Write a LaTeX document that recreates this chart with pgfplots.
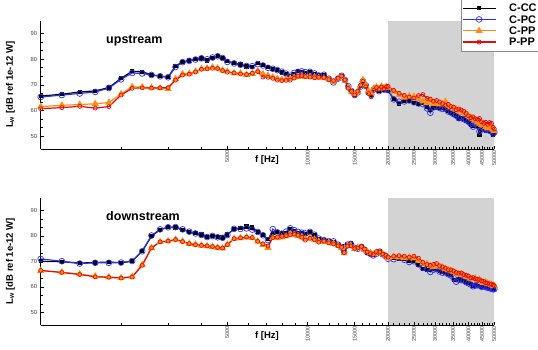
\documentclass[border=0pt]{standalone}
\usepackage{pgfplots}
\pgfplotsset{compat=1.18}
\usepackage{pgfplotstable}
\usepackage{fontspec}
\setmainfont{Liberation Sans}

\definecolor{cblue}{RGB}{45,45,250}
\definecolor{corange}{RGB}{255,140,20}
\definecolor{cred}{RGB}{228,10,10}
\definecolor{shade}{RGB}{211,211,211}

\pgfplotstableread{
f      CC    PC    PP    PPP
1000   65.6  65.2  61.5  60.7
1200   66.3  66.0  62.0  61.1
1400   67.2  66.6  62.3  61.6
1600   67.6  67.2  62.6  60.9
1800   68.9  68.7  63.1  61.5
2000   72.5  72.1  66.4  66.0
2200   75.2  74.6  69.2  68.6
2400   75.1  74.4  69.1  68.8
2600   73.8  73.8  68.9  68.7
2800   73.4  73.3  68.7  68.8
3000   73.0  72.9  68.4  68.9
3200   77.3  76.9  72.3  71.8
3400   78.9  78.8  74.2  73.8
3600   79.4  79.3  74.4  74.1
3800   79.9  79.8  75.2  75.0
4000   80.2  80.3  76.2  76.0
4200   79.4  79.9  76.4  76.2
4400   80.4  80.6  76.8  76.4
4600   81.2  81.1  76.4  76.3
4800   80.5  80.4  75.6  75.5
5000   79.1  78.9  75.2  74.9
5300   78.5  78.3  74.6  74.6
5600   77.9  77.8  74.5  74.2
5900   77.1  77.3  73.9  74.0
6200   77.0  77.2  74.3  74.5
6500   78.6  78.0  75.4  75.1
6800   77.6  77.5  74.2  73.0
7100   76.8  76.6  73.6  72.9
7400   76.0  76.2  73.0  72.5
7700   75.8  75.7  72.4  71.8
8000   74.8  75.1  72.0  71.6
8300   74.2  74.3  72.2  71.7
8600   73.4  73.5  72.5  71.8
8900   74.3  74.6  72.8  72.6
9200   75.2  75.0  73.1  73.4
9500   74.8  75.2  73.4  73.5
9800   74.7  74.9  73.0  73.2
10200  74.8  75.0  73.2  73.0
10600  74.3  74.4  73.0  72.7
11000  73.6  73.6  72.8  72.9
11500  73.8  73.9  72.6  72.8
12000  72.6  72.3  72.3  72.0
12500  71.0  70.9  71.2  71.6
13000  72.6  72.4  72.4  72.5
13400  73.3  73.5  73.0  73.4
13800  72.0  71.8  71.6  71.9
14200  69.2  69.4  69.0  68.6
14600  67.4  67.5  67.2  67.4
15000  66.2  66.0  66.4  66.0
15400  67.2  67.0  67.3  67.5
15800  69.4  69.3  69.8  69.9
16100  71.6  71.4  71.9  71.3
16500  69.6  69.8  69.8  69.2
16900  67.3  67.0  67.5  66.6
17300  66.2  66.1  66.8  65.3
17700  68.5  68.2  68.7  67.8
18100  68.4  68.6  69.1  68.9
18500  67.6  67.5  68.5  68.2
18900  68.6  68.7  69.4  69.1
19300  67.9  68.1  68.8  68.5
19700  68.5  68.2  69.2  69.2
20000  67.6  67.9  68.9  69.4
21000  64.6  64.3  67.4  67.8
22000  62.6  63.4  66.0  66.7
23000  63.8  63.5  65.0  65.9
24000  63.6  63.9  65.6  65.2
25000  62.9  63.2  65.4  64.8
26000  62.4  62.7  64.6  65.8
27000  62.9  62.5  63.6  66.2
28000  61.2  60.8  63.0  64.7
28800  60.3  59.1  63.9  64.4
29600  61.0  61.2  62.6  63.6
30400  61.3  61.4  63.2  63.9
31200  60.8  61.0  62.4  63.3
32000  60.9  60.6  62.6  62.6
32800  60.5  60.7  63.4  61.9
33600  59.7  59.6  61.8  62.4
34400  58.9  59.2  61.2  61.5
35200  58.4  58.6  60.8  61.3
36000  57.7  58.0  60.4  60.3
36800  56.6  57.0  59.8  60.6
37600  57.1  57.3  59.6  60.2
38400  56.9  56.6  59.0  59.7
39200  55.8  56.4  58.6  58.9
40000  55.5  55.6  57.8  57.9
40800  54.4  54.8  57.4  57.2
41600  53.8  53.7  56.8  57.5
42400  54.6  54.8  56.1  56.8
43200  53.9  54.0  55.4  56.6
44000  50.6  51.8  54.9  56.9
44800  52.3  52.6  54.4  55.6
45600  53.1  53.0  54.8  55.0
46400  52.2  52.5  53.6  55.4
47200  52.6  52.8  53.1  54.6
48000  51.9  52.1  53.4  55.3
48800  52.4  52.7  53.7  55.0
49500  50.6  51.0  52.6  53.4
50000  51.2  51.5  52.0  52.8
}\up

\pgfplotstableread{
f      CC    PC    PP    PPP
1000   70.0  70.9  66.3  66.4
1200   69.8  70.0  65.7  65.6
1400   69.3  69.1  65.0  64.8
1600   69.5  69.4  64.1  63.9
1800   69.7  69.4  63.8  63.7
2000   69.4  69.5  63.5  63.4
2200   70.0  70.1  64.0  63.8
2400   74.0  73.9  68.6  68.4
2600   79.8  80.1  75.2  75.3
2800   82.4  82.5  77.6  77.6
3000   83.3  83.3  77.9  77.9
3200   83.2  83.4  78.5  78.5
3400   82.4  82.5  77.8  77.7
3600   81.6  81.6  76.9  76.9
3800   81.0  80.9  76.6  76.5
4000   80.5  80.3  76.2  76.2
4200   79.6  79.5  76.0  76.0
4400   79.9  79.9  75.7  75.8
4600   79.6  79.4  75.3  75.4
4800   79.3  79.2  75.1  75.2
5000   80.5  80.3  76.6  76.5
5300   82.6  82.7  78.8  78.9
5600   83.0  82.7  79.1  79.2
5900   83.6  82.9  79.4  79.5
6200   83.2  82.4  79.2  79.3
6500   81.6  81.5  77.8  77.8
6800   80.3  80.2  76.5  76.8
7100   78.6  78.3  75.3  76.0
7400   81.0  82.6  79.2  79.3
7700   81.6  81.3  79.1  79.5
8000   80.9  80.8  79.4  79.8
8300   81.2  81.6  79.8  80.0
8600   82.5  82.9  80.6  80.4
8900   82.0  82.2  80.5  80.6
9200   81.2  81.5  80.0  80.2
9500   81.0  81.2  79.5  79.4
9800   80.8  80.9  78.8  78.3
10200  81.3  81.5  79.3  79.0
10600  80.2  80.4  78.5  78.4
11000  78.7  78.9  77.8  77.5
11500  78.4  78.3  77.6  77.9
12000  77.8  77.9  77.4  77.2
12500  77.6  77.8  77.0  76.8
13000  76.6  76.5  76.2  76.0
13400  75.8  75.4  75.3  75.5
13700  73.8  73.6  73.2  73.4
14100  76.3  76.5  76.0  75.9
14500  77.3  76.8  76.2  76.0
15000  75.6  75.2  74.9  75.0
15400  75.1  74.9  75.4  75.2
15900  75.5  75.6  75.3  75.8
16300  74.8  74.6  74.5  74.8
16700  73.4  73.5  73.8  73.6
17200  73.0  72.9  73.3  73.0
17600  72.4  72.3  72.8  72.6
18100  73.2  73.0  73.4  73.8
18600  73.9  73.8  73.6  73.6
19100  73.0  72.7  72.9  72.8
19600  72.1  72.0  72.2  72.4
20000  71.3  71.0  71.4  71.6
21000  71.2  70.8  71.8  72.0
22000  71.0  71.4  71.6  72.2
23000  70.8  70.6  71.3  72.0
24000  70.2  69.7  71.6  71.6
25000  70.3  70.0  71.2  72.0
26000  68.6  68.8  70.3  71.2
27000  67.0  67.4  69.2  69.6
28000  66.8  67.0  69.0  68.7
28800  66.5  65.8  68.2  68.4
29600  66.9  66.7  67.8  68.8
30400  66.5  66.9  68.3  69.1
31200  66.2  66.0  67.9  68.2
32000  65.8  65.5  67.6  67.8
32800  65.6  65.7  67.0  67.3
33600  65.2  64.9  66.6  66.7
34400  64.5  64.4  66.4  66.6
35200  62.8  63.4  65.8  66.2
36000  62.6  62.0  65.2  65.6
36800  63.0  62.8  65.0  65.3
37600  62.7  62.6  64.9  65.4
38400  62.3  62.5  64.6  64.8
39200  62.0  61.8  64.0  64.5
40000  61.5  61.4  63.8  64.2
40800  61.0  60.9  63.2  63.5
41600  60.4  60.2  62.9  63.6
42400  60.7  60.5  63.4  63.1
43200  60.9  60.6  62.5  62.9
44000  60.3  60.5  62.8  62.8
44800  60.1  60.0  62.0  62.3
45600  60.4  60.2  61.6  62.1
46400  60.0  59.9  61.8  61.6
47200  59.8  59.6  61.3  61.4
48000  59.4  59.5  61.1  61.0
48800  59.3  59.2  60.8  61.1
49500  59.1  59.0  60.5  60.6
50000  59.2  59.1  60.4  60.4
}\down

\pgfplotsset{
  mypanel/.style={
    scale only axis, width=453.6pt,
    xmin=1000, xmax=50000, ymin=45, ymax=95,
    axis x line*=bottom, axis y line*=left,
    axis line style={-, black, line width=0.6pt},
    axis on top,
    xtick={5000,10000,15000,20000,25000,30000,35000,40000,45000,50000},
    xticklabels={5000,10000,15000,20000,25000,30000,35000,40000,45000,50000},
    minor xtick={1000,2000,3000,4000,6000,7000,8000,9000,11000,12000,13000,14000,16000,17000,18000,19000,21000,22000,23000,24000,26000,27000,28000,29000,31000,32000,33000,34000,36000,37000,38000,39000,41000,42000,43000,44000,46000,47000,48000,49000},
    ytick={50,60,70,80,90}, minor y tick num=2,
    tick align=inside, major tick length=3.5pt, minor tick length=2.2pt,
    every tick/.append style={black, line width=0.5pt},
    xticklabel style={rotate=90, anchor=east, font=\fontsize{5.5}{6}\selectfont, text=black!75, inner sep=1.5pt},
    yticklabel style={font=\fontsize{5.8}{6}\selectfont, text=black!75},
    xlabel={f [Hz]},
    xlabel style={at={(axis description cs:0.4989,-0.085)}, anchor=center, font=\fontsize{9.5}{11}\bfseries\selectfont, inner sep=0pt},
    ylabel={L\textsubscript{w} [dB ref 1e-12 W]},
    ylabel style={at={(axis description cs:-0.0666,0.5)}, anchor=center, font=\fontsize{9.5}{11}\bfseries\selectfont, inner sep=0pt},
  },
  sCC/.style={black, line width=1.2pt, mark=square*, mark size=1.5pt, mark options={solid}},
  sPC/.style={cblue, line width=1.2pt, mark=o, mark size=2.9pt, mark options={solid, line width=0.7pt}},
  sPP/.style={corange, line width=1.2pt, mark=triangle*, mark size=3.0pt, mark options={solid}},
  sPPP/.style={cred, line width=1.2pt, mark=o, mark size=2.0pt, mark options={solid, line width=0.7pt}},
}

\begin{document}
\begin{tikzpicture}
\path[use as bounding box] (0,0) rectangle (538pt,349pt);

\begin{axis}[xmode=log, mypanel, at={(40.7pt,200pt)}, anchor=south west, height=128.5pt,
  legend style={at={(0.926,1.167)}, anchor=north west, draw=black!45, line width=0.5pt, fill=white,
    font=\fontsize{11}{12}\bfseries\selectfont, inner xsep=1pt, inner ysep=3.2pt, row sep=0pt,
    nodes={inner xsep=1.5pt, inner ysep=1.4pt, text height=8pt, text depth=0.5pt}},
  legend cell align=left,
  legend image code/.code={\draw[mark repeat=2,mark phase=2] plot coordinates {(0pt,0pt) (16.5pt,0pt) (33pt,0pt)}; \path (44.5pt,0pt);},
  /pgf/number format/assume math mode=true,
]
\addplot[fill=shade, draw=none, forget plot] coordinates {(20000,45) (50000,45) (50000,95) (20000,95)} -- cycle;
\addplot[sCC] table[x=f, y=CC] {\up};
\addlegendentry{C-CC}
\addplot[sPC] table[x=f, y=PC] {\up};
\addlegendentry{C-PC}
\addplot[sPP] table[x=f, y=PP] {\up};
\addlegendentry{C-PP}
\addplot[sPPP] table[x=f, y=PPP] {\up};
\addlegendentry{P-PP}
\node[anchor=base west, font=\fontsize{12.5}{14}\bfseries\selectfont, inner sep=0pt] at (rel axis cs:0.144,0.823) {upstream};
\end{axis}

\begin{axis}[xmode=log, mypanel, at={(40.7pt,24pt)}, anchor=south west, height=127.5pt,
  /pgf/number format/assume math mode=true]
\addplot[fill=shade, draw=none, forget plot] coordinates {(20000,45) (50000,45) (50000,95) (20000,95)} -- cycle;
\addplot[sCC] table[x=f, y=CC] {\down};
\addplot[sPC] table[x=f, y=PC] {\down};
\addplot[sPP] table[x=f, y=PP] {\down};
\addplot[sPPP] table[x=f, y=PPP] {\down};
\node[anchor=base west, font=\fontsize{12.5}{14}\bfseries\selectfont, inner sep=0pt] at (rel axis cs:0.144,0.823) {downstream};
\end{axis}
\end{tikzpicture}
\end{document}
